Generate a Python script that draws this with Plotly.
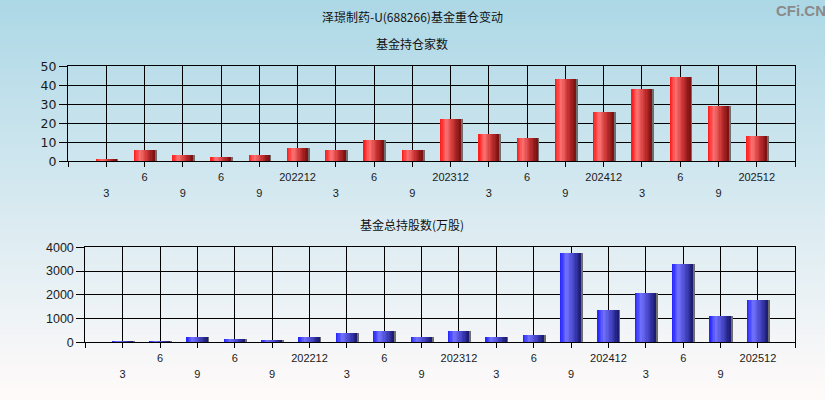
import plotly.graph_objects as go

# ---------------- data ----------------
tick_labels = ["3", "6", "9", "6", "9", "202212", "3", "6", "9", "202312",
               "3", "6", "9", "202412", "3", "6", "9", "202512"]
fund_count = [1, 6, 3, 2, 3, 7, 6, 11, 6, 22, 14, 12, 43, 26, 38, 44, 29, 13]
fund_shares = [40, 30, 220, 130, 90, 220, 390, 470, 220, 470, 220, 300,
               3760, 1360, 2080, 3300, 1100, 1780]

title_main = "泽璟制药-U(688266)基金重仓变动"
title_top = "基金持仓家数"
title_bottom = "基金总持股数(万股)"

W, H = 825, 400
positions = list(range(1, len(tick_labels) + 1))
n_slots = len(tick_labels) + 1

def lerp(c1, c2, t):
    return tuple(int(round(a + (b - a) * t)) for a, b in zip(c1, c2))

def grad_color(stops, t):
    for i in range(len(stops) - 1):
        t0, c0 = stops[i]
        t1, c1 = stops[i + 1]
        if t0 <= t <= t1:
            return lerp(c0, c1, (t - t0) / (t1 - t0))
    return stops[-1][1]

red_stops = [(0.0, (255, 20, 20)), (0.3, (255, 115, 115)), (0.65, (200, 50, 50)), (1.0, (120, 15, 15))]
blue_stops = [(0.0, (30, 30, 255)), (0.3, (115, 115, 255)), (0.65, (70, 70, 200)), (1.0, (25, 25, 110))]

fig = go.Figure()

def add_bars(values, xa, ya, width, stops, slot_px):
    shadow_off = 2.0 / slot_px
    fig.add_trace(go.Bar(x=positions, y=values, xaxis=xa, yaxis=ya,
                         width=width, offset=-width / 2 + shadow_off,
                         marker=dict(color="rgb(110,110,110)", line=dict(width=0)),
                         hoverinfo="skip", showlegend=False))
    N = 16
    sw = width / N
    for i in range(N):
        c = grad_color(stops, (i + 0.5) / N)
        fig.add_trace(go.Bar(x=positions, y=values, xaxis=xa, yaxis=ya,
                             width=sw * 1.08, offset=-width / 2 + i * sw,
                             marker=dict(color="rgb(%d,%d,%d)" % c, line=dict(width=0)),
                             hoverinfo="skip", showlegend=False))

top_x = (68, 795)
top_y = (66.3, 161.3)
bot_x = (85.3, 795.3)
bot_y = (247.3, 342.3)

add_bars(fund_count, "x", "y", 0.53, red_stops, (top_x[1] - top_x[0]) / n_slots)
add_bars(fund_shares, "x2", "y2", 0.55, blue_stops, (bot_x[1] - bot_x[0]) / n_slots)

upper_vals = [p for p in positions if p % 2 == 0]
upper_txt = [tick_labels[p - 1] for p in upper_vals]
lower_vals = [p for p in positions if p % 2 == 1]
lower_txt = [tick_labels[p - 1] for p in lower_vals]

font_lbl = dict(family="Liberation Sans, Arial, sans-serif", size=11, color="#1a1a1a")

def xdom(px):
    return [px[0] / W, px[1] / W]

def ydom(py):
    return [(H - py[1]) / H, (H - py[0]) / H]

common_x = dict(range=[0, n_slots], showgrid=True, gridcolor="black", gridwidth=1,
                showline=True, linecolor="black", linewidth=1, mirror=True,
                ticks="outside", ticklen=5, tickcolor="black", tickfont=font_lbl,
                zeroline=False, fixedrange=True, automargin=False)
common_y = dict(showgrid=True, gridcolor="black", gridwidth=1,
                showline=True, linecolor="black", linewidth=1, mirror=True,
                ticks="outside", ticklen=8, tickcolor="black",
                zeroline=False, fixedrange=True, automargin=False)

all_vals = list(range(0, n_slots + 1))
all_txt_upper = ["" for _ in all_vals]
for v, t in zip(upper_vals, upper_txt):
    all_txt_upper[v] = t

lower_common = dict(showgrid=False, showline=False, ticks="", tickfont=font_lbl,
                    ticklabelstandoff=24, zeroline=False, fixedrange=True,
                    side="bottom", automargin=False, range=[0, n_slots],
                    tickvals=lower_vals, ticktext=lower_txt)

fig.update_layout(
    width=W, height=H, autosize=False,
    margin=dict(l=0, r=0, t=0, b=0, pad=0, autoexpand=False),
    paper_bgcolor="rgba(0,0,0,0)",
    plot_bgcolor="rgba(0,0,0,0)",
    barmode="overlay",
    bargap=0,
    xaxis=dict(common_x, domain=xdom(top_x), anchor="y", tickvals=all_vals, ticktext=all_txt_upper),
    yaxis=dict(common_y, domain=ydom(top_y), anchor="x", range=[0, 50], dtick=10,
               tickfont=dict(family="DejaVu Sans, sans-serif", size=12.5, color="#1a1a1a")),
    xaxis2=dict(common_x, domain=xdom(bot_x), anchor="y2", tickvals=all_vals, ticktext=all_txt_upper),
    yaxis2=dict(common_y, domain=ydom(bot_y), anchor="x2", range=[0, 4000], dtick=1000,
                tickfont=dict(family="Liberation Sans, Arial, sans-serif", size=12.5, color="#1a1a1a")),
    xaxis3=dict(lower_common, overlaying="x", anchor="y"),
    xaxis4=dict(lower_common, overlaying="x2", anchor="y2"),
)

fig.add_trace(go.Scatter(x=[0], y=[0], xaxis="x3", yaxis="y", mode="markers",
                         marker=dict(opacity=0), hoverinfo="skip", showlegend=False))
fig.add_trace(go.Scatter(x=[0], y=[0], xaxis="x4", yaxis="y2", mode="markers",
                         marker=dict(opacity=0), hoverinfo="skip", showlegend=False))

shapes = []
NB = 80
top_c = (173, 216, 230)
bot_c = (255, 250, 250)
for i in range(NB):
    c = lerp(top_c, bot_c, i / (NB - 1))
    shapes.append(dict(type="rect", xref="paper", yref="paper", x0=0, x1=1,
                       y0=1 - (i + 1) / NB, y1=min(1.0, 1 - i / NB + 0.002), layer="below",
                       line=dict(width=0), fillcolor="rgb(%d,%d,%d)" % c))
fig.update_layout(shapes=shapes)

cjk = "Noto Sans CJK SC, sans-serif"
annots = [
    dict(text=title_main, x=412 / W, y=1 - 17 / H, font=dict(family=cjk, size=12, color="#111")),
    dict(text=title_top, x=412 / W, y=1 - 43 / H, font=dict(family=cjk, size=12, color="#111")),
    dict(text=title_bottom, x=412 / W, y=1 - 224 / H, font=dict(family=cjk, size=12, color="#111")),
    dict(text="<b>CFi.CN</b>", x=801 / W, y=1 - 10 / H,
         font=dict(family="Liberation Sans, Arial, sans-serif", size=15, color="#8a8a8a")),
]
for a in annots:
    a.update(xref="paper", yref="paper", showarrow=False, xanchor="center", yanchor="middle")
fig.update_layout(annotations=annots)

fig.write_html("out.html",
               config={"displayModeBar": False, "responsive": False},
               post_script="document.body.style.margin='0';document.body.style.padding='0';"
                           "document.body.style.overflow='hidden';"
                           "document.documentElement.style.overflow='hidden';")
